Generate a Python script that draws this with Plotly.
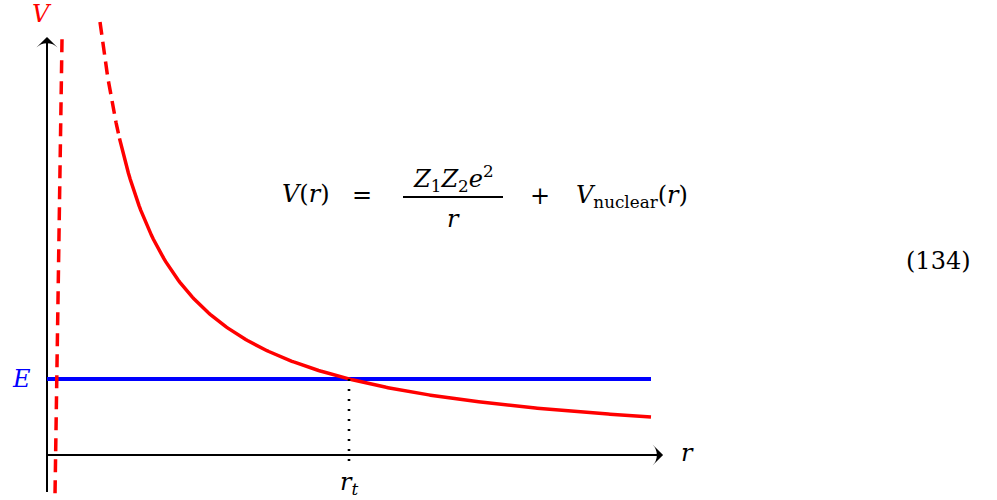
import numpy as np
import plotly.graph_objects as go

# Model in reduced units: r in units of the turning point r_t, V in units of E
r_t = 1.0
E = 1.0
r_dash_start = 0.1755      # top of the dashed Coulomb branch
r_solid_start = 0.24       # where the drawn curve becomes solid
r_max = 2.0                # end of the drawn curve / energy line

# Nuclear wall (short-range repulsion drawn as a steep dashed line)
wall_r = [0.0497, 0.0265]
wall_V = [5.47, -0.526]

# Axis extents
axis_r_end = 2.04
axis_V_low, axis_V_high = -0.487, 5.50
dotted_V_low = -0.09

W, H = 997, 500
px_per_r, px_per_V = 302.0, 76.0
x0_px, y0_px = 47.0, 455.0


def coulomb(r):
    return r_t * E / r


r_dash = np.linspace(r_dash_start, r_solid_start, 40)
r_solid = np.linspace(r_solid_start, r_max, 300)

RED = "#ff0000"
BLUE = "#0000ff"
SERIF = "DejaVu Serif, serif"
FS = 24

fig = go.Figure()

# Axes drawn as lines ending in an arrow marker
arrow = dict(symbol="arrow-wide", size=[0, 15], angleref="previous",
             color="black", opacity=1, line=dict(width=0))
fig.add_trace(go.Scatter(x=[0, 0], y=[axis_V_low, axis_V_high], mode="lines+markers",
                         line=dict(color="black", width=2), marker=arrow,
                         hoverinfo="skip"))
fig.add_trace(go.Scatter(x=[0, axis_r_end], y=[0, 0], mode="lines+markers",
                         line=dict(color="black", width=2), marker=arrow,
                         hoverinfo="skip"))

# Energy level E
fig.add_trace(go.Scatter(x=[0, r_max], y=[E, E], mode="lines",
                         line=dict(color=BLUE, width=4), hoverinfo="skip"))
# Coulomb barrier
fig.add_trace(go.Scatter(x=r_dash, y=coulomb(r_dash), mode="lines",
                         line=dict(color=RED, width=3.5, dash="13px,7px"),
                         hoverinfo="skip"))
fig.add_trace(go.Scatter(x=r_solid, y=coulomb(r_solid), mode="lines",
                         line=dict(color=RED, width=3.5), hoverinfo="skip"))
# Nuclear wall
fig.add_trace(go.Scatter(x=wall_r, y=wall_V, mode="lines",
                         line=dict(color=RED, width=3.5, dash="13px,8px"),
                         hoverinfo="skip"))
# Turning point drop line
fig.add_trace(go.Scatter(x=[r_t, r_t], y=[E, dotted_V_low], mode="lines",
                         line=dict(color="black", width=2.6, dash="2px,8px"),
                         hoverinfo="skip"))

# Axis and level labels
fig.add_annotation(x=-0.0166, y=5.80, text="<i>V</i>", showarrow=False,
                   font=dict(family=SERIF, size=FS, color=RED))
fig.add_annotation(x=-0.083, y=E, text="<i>E</i>", showarrow=False,
                   font=dict(family=SERIF, size=FS, color=BLUE))
fig.add_annotation(x=2.12, y=0.03, text="<i>r</i>", showarrow=False,
                   font=dict(family=SERIF, size=FS, color="black"))
fig.add_annotation(x=r_t, y=-0.37, text="<i>r</i><sub><i>t</i></sub>",
                   showarrow=False, font=dict(family=SERIF, size=FS, color="black"))


# Equation, placed in paper coordinates
def paper(px, py):
    return px / W, 1 - py / H


eq_font = dict(family=SERIF, size=FS, color="black")
for text, px, py in [
    ("<i>V</i>(<i>r</i>)", 306, 194),
    ("=", 362, 195),
    ("<i>Z</i><sub>1</sub><i>Z</i><sub>2</sub><i>e</i><sup>2</sup>", 453, 178),
    ("<i>r</i>", 453, 219),
    ("+", 540, 196),
    ("<i>V</i><sub>nuclear</sub>(<i>r</i>)", 632, 196),
    ("(134)", 938, 261),
]:
    xp, yp = paper(px, py)
    fig.add_annotation(x=xp, y=yp, xref="paper", yref="paper", text=text,
                       showarrow=False, font=eq_font,
                       xanchor="center", yanchor="middle")

bx0, by = paper(403, 197)
bx1, _ = paper(503, 197)
fig.add_shape(type="line", xref="paper", yref="paper", x0=bx0, x1=bx1,
              y0=by, y1=by, line=dict(color="black", width=1.8))

fig.update_layout(
    width=W, height=H, margin=dict(l=0, r=0, t=0, b=0),
    paper_bgcolor="white", plot_bgcolor="white", showlegend=False,
    xaxis=dict(range=[-x0_px / px_per_r, (W - x0_px) / px_per_r],
               visible=False, fixedrange=True),
    yaxis=dict(range=[(y0_px - H) / px_per_V, y0_px / px_per_V],
               visible=False, fixedrange=True),
)

fig.write_html("out.html")
